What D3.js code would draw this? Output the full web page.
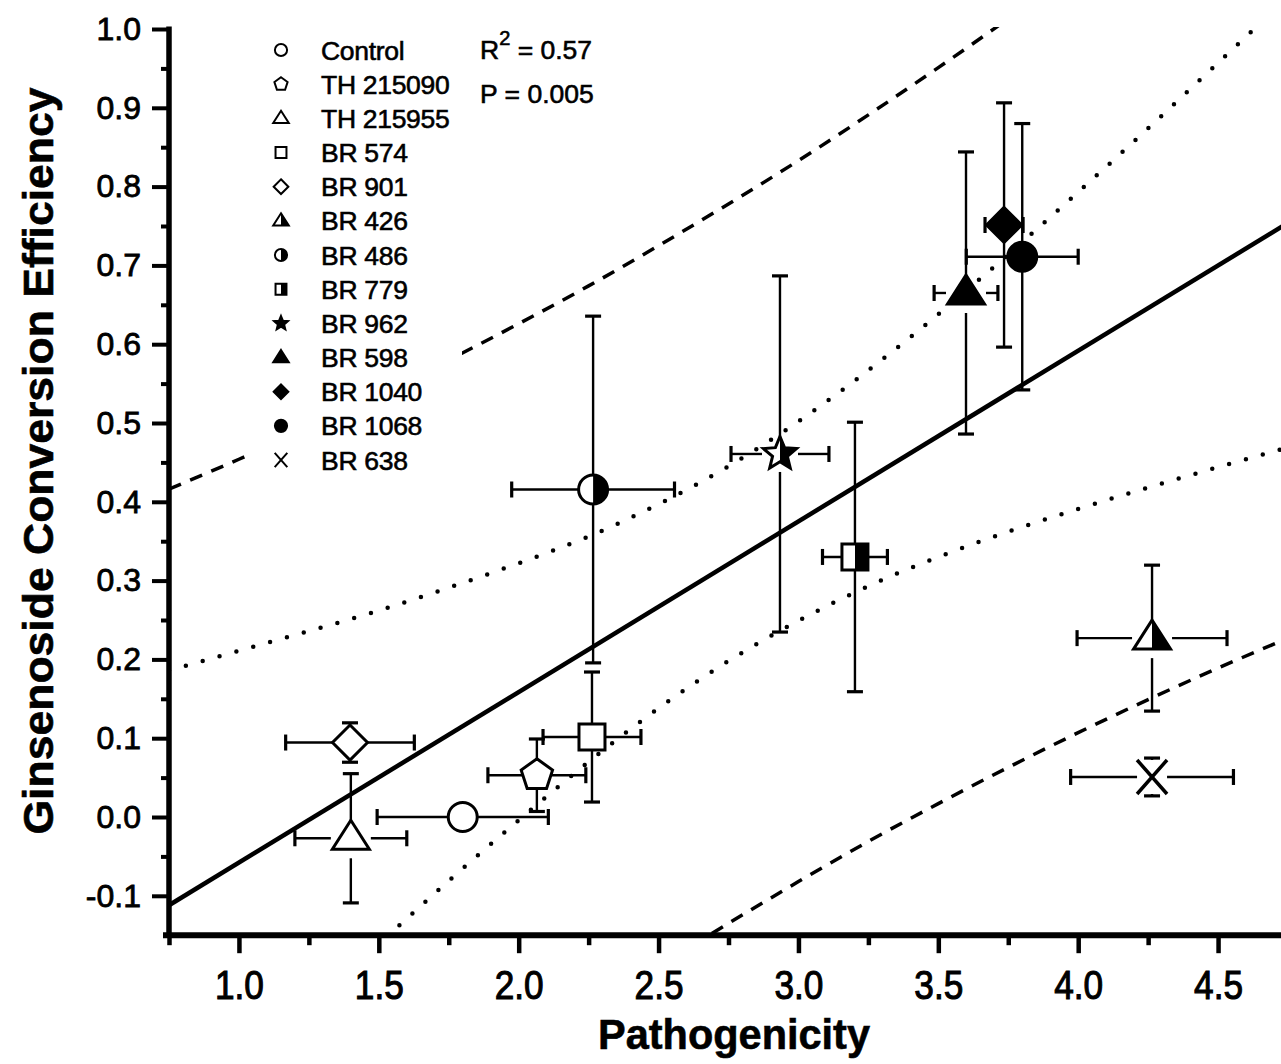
<!DOCTYPE html>
<html>
<head>
<meta charset="utf-8">
<script src="https://cdn.jsdelivr.net/npm/d3@7"></script>
<style>
  body { margin: 0; background: #fff; }
  svg { font-family: "Liberation Sans", Arial, Helvetica, sans-serif; }
</style>
</head>
<body>
<svg id="chart" width="1281" height="1064"></svg>
<script>
// values
var strains = ["Control", "TH 215090", "TH 215955", "BR 574", "BR 901", "BR 426", "BR 486",
               "BR 779", "BR 962", "BR 598", "BR 1040", "BR 1068", "BR 638"];
var pathogenicity    = [1.80, 2.065, 1.40, 2.262, 1.397, 4.264, 2.266, 3.202, 2.934, 3.599, 3.735, 3.80, 4.264];
var pathogenicityErr = [0.306, 0.175, 0.20, 0.175, 0.23, 0.268, 0.291, 0.116, 0.175, 0.114, 0.068, 0.20, 0.291];
var efficiency       = [0.0, 0.053, -0.027, 0.1015, 0.0945, 0.227, 0.4156, 0.33, 0.4607, 0.665, 0.7513, 0.711, 0.0508];
var efficiencyErr    = [0, 0.046, 0.082, 0.0825, 0.025, 0.0926, 0.22, 0.171, 0.226, 0.179, 0.155, 0.169, 0.024];

// regression fit, 95% confidence band (dotted) and prediction band (dashed)
var fitX = [0.75, 4.75];
var fitY = [-0.112, 0.754];
var bandX     = [0.75, 1.0, 1.25, 1.5, 1.75, 2.0, 2.25, 2.5, 2.75, 3.0, 3.25, 3.5, 3.75, 4.0, 4.25, 4.5, 4.75];
var confUpper = [0.186, 0.211, 0.236, 0.262, 0.291, 0.322, 0.356, 0.397, 0.445, 0.502, 0.567, 0.638, 0.714, 0.793, 0.874, 0.957, 1.040];
var confLower = [-0.410, -0.326, -0.242, -0.161, -0.081, -0.004, 0.070, 0.138, 0.198, 0.249, 0.293, 0.330, 0.362, 0.391, 0.418, 0.444, 0.469];
var predUpper = [0.416, 0.454, 0.494, 0.536, 0.580, 0.626, 0.674, 0.725, 0.778, 0.833, 0.891, 0.951, 1.013, 1.077, 1.144, 1.212, 1.282];
var predLower = [-0.639, -0.569, -0.501, -0.434, -0.370, -0.308, -0.248, -0.190, -0.135, -0.082, -0.031, 0.017, 0.063, 0.107, 0.149, 0.189, 0.227];

var xTicks = [1.0, 1.5, 2.0, 2.5, 3.0, 3.5, 4.0, 4.5];
var xMinor = [0.75, 1.25, 1.75, 2.25, 2.75, 3.25, 3.75, 4.25, 4.75];
var yTicks = [-0.1, 0.0, 0.1, 0.2, 0.3, 0.4, 0.5, 0.6, 0.7, 0.8, 0.9, 1.0];
var yMinor = [-0.05, 0.05, 0.15, 0.25, 0.35, 0.45, 0.55, 0.65, 0.75, 0.85, 0.95];
var r2Value = "0.57";
var pValue = "0.005";

// marker look per strain
var markerStyle = {
  "Control":   { shape: "circle",   fill: "open" },
  "TH 215090": { shape: "pentagon", fill: "open" },
  "TH 215955": { shape: "triangle", fill: "open" },
  "BR 574":    { shape: "square",   fill: "open" },
  "BR 901":    { shape: "diamond",  fill: "open" },
  "BR 426":    { shape: "triangle", fill: "half" },
  "BR 486":    { shape: "circle",   fill: "half" },
  "BR 779":    { shape: "square",   fill: "half" },
  "BR 962":    { shape: "star",     fill: "half" },
  "BR 598":    { shape: "triangle", fill: "solid" },
  "BR 1040":   { shape: "diamond",  fill: "solid" },
  "BR 1068":   { shape: "circle",   fill: "solid" },
  "BR 638":    { shape: "cross",    fill: "none" }
};

// gap between marker centre and the start of its error bar (px)
var barGap = {
  "triangle": { up: 0, down: 20, left: 20, right: 20 },
  "star":     { up: 0, down: 18, left: 18, right: 18 },
  "cross":    { up: 17, down: 17, left: 15, right: 15 }
};

var svg = d3.select("#chart");

var x = d3.scaleLinear().domain([0.75, 4.75]).range([169, 1288]);
var y = d3.scaleLinear().domain([-0.15, 1.0]).range([935.2, 29]);

function shapePath(kind, s) {
  var p = d3.path();
  if (kind == "circle") {
    p.arc(0, 0, 14.5 * s, 0, 2 * Math.PI);
  } else if (kind == "square") {
    p.rect(-13 * s, -13 * s, 26 * s, 26 * s);
  } else if (kind == "diamond") {
    var h = 17.5 * s;
    p.moveTo(0, -h); p.lineTo(h, 0); p.lineTo(0, h); p.lineTo(-h, 0); p.closePath();
  } else if (kind == "triangle") {
    p.moveTo(0, -18 * s); p.lineTo(18.5 * s, 11 * s); p.lineTo(-18.5 * s, 11 * s); p.closePath();
  } else if (kind == "pentagon") {
    for (var i = 0; i < 5; i++) {
      var a = -Math.PI / 2 + i * 2 * Math.PI / 5;
      if (i == 0) p.moveTo(16.5 * s * Math.cos(a), 16.5 * s * Math.sin(a));
      else p.lineTo(16.5 * s * Math.cos(a), 16.5 * s * Math.sin(a));
    }
    p.closePath();
  } else if (kind == "star") {
    for (var j = 0; j < 10; j++) {
      var r = (j % 2 == 0 ? 17.5 : 7.8) * s;
      var b = -Math.PI / 2 + j * Math.PI / 5;
      if (j == 0) p.moveTo(r * Math.cos(b), r * Math.sin(b));
      else p.lineTo(r * Math.cos(b), r * Math.sin(b));
    }
    p.closePath();
  } else if (kind == "cross") {
    p.moveTo(-15 * s, -17 * s); p.lineTo(15 * s, 17 * s);
    p.moveTo(15 * s, -17 * s); p.lineTo(-15 * s, 17 * s);
  }
  return p.toString();
}

function drawMarker(g, style, s, sw) {
  var d = shapePath(style.shape, s);
  if (style.fill == "none") {
    g.append("path").attr("d", d).attr("fill", "none").attr("stroke", "#000").attr("stroke-width", sw);
    return;
  }
  g.append("path").attr("d", d)
    .attr("fill", style.fill == "solid" ? "#000" : "#fff");
  if (style.fill == "half") {
    g.append("path").attr("d", d).attr("fill", "#000").attr("clip-path", "url(#rightHalf)");
  }
  g.append("path").attr("d", d)
    .attr("fill", "none").attr("stroke", "#000").attr("stroke-width", sw)
    .attr("stroke-linejoin", "miter");
}

var defs = svg.append("defs");
defs.append("clipPath").attr("id", "plotClip")
  .append("rect").attr("x", 169).attr("y", 27).attr("width", 1200).attr("height", 908);
defs.append("clipPath").attr("id", "rightHalf")
  .append("rect").attr("x", 0).attr("y", -40).attr("width", 40).attr("height", 80);

// ---- fit line and bands ----
var lines = svg.append("g").attr("clip-path", "url(#plotClip)");
var band = d3.line()
  .x(function(d) { return x(d[0]); })
  .y(function(d) { return y(d[1]); })
  .curve(d3.curveNatural);

function bandPoints(vals) { return bandX.map(function(v, i) { return [v, vals[i]]; }); }

[confUpper, confLower].forEach(function(vals) {
  lines.append("path").attr("d", band(bandPoints(vals)))
    .attr("fill", "none").attr("stroke", "#000").attr("stroke-width", 4.5)
    .attr("stroke-linecap", "round").attr("stroke-dasharray", "0 17.5");
});
[predUpper, predLower].forEach(function(vals) {
  lines.append("path").attr("d", band(bandPoints(vals)))
    .attr("fill", "none").attr("stroke", "#000").attr("stroke-width", 3.5)
    .attr("stroke-dasharray", "13 10");
});
lines.append("path")
  .attr("d", d3.line()(fitX.map(function(v, i) { return [x(v), y(fitY[i])]; })))
  .attr("fill", "none").attr("stroke", "#000").attr("stroke-width", 4.5);

// ---- axes ----
var gy = svg.append("g").attr("transform", "translate(169,0)");
gy.call(d3.axisLeft(y).tickValues(yTicks).tickSize(17).tickSizeOuter(0).tickPadding(11)
  .tickFormat(function(d) { return d.toFixed(1); }));
gy.append("g").call(d3.axisLeft(y).tickValues(yMinor).tickSize(8).tickSizeOuter(0).tickFormat(""));
gy.selectAll(".domain").remove();
gy.selectAll("line").attr("stroke-width", 4);
gy.selectAll("text").attr("font-size", 32).attr("fill", "#000")
  .attr("stroke", "#000").attr("stroke-width", 0.8)
  .attr("font-family", "'Liberation Sans', Arial, sans-serif");
gy.append("line").attr("x1", 0).attr("x2", 0).attr("y1", 26.5).attr("y2", 938)
  .attr("stroke", "#000").attr("stroke-width", 5.5);

var gx = svg.append("g").attr("transform", "translate(0," + y(-0.15) + ")");
gx.call(d3.axisBottom(x).tickValues(xTicks).tickSize(18).tickSizeOuter(0).tickPadding(17)
  .tickFormat(function(d) { return d.toFixed(1); }));
gx.append("g").call(d3.axisBottom(x).tickValues(xMinor).tickSize(10).tickSizeOuter(0).tickFormat(""));
gx.selectAll(".domain").remove();
gx.selectAll("line").attr("stroke-width", 4.5);
gx.selectAll("text").attr("font-size", 40).attr("fill", "#000")
  .attr("stroke", "#000").attr("stroke-width", 1.1)
  .attr("font-family", "'Liberation Sans', Arial, sans-serif")
  .attr("transform", "scale(0.88,1)");
gx.append("line").attr("x1", 163).attr("x2", 1290).attr("y1", 0).attr("y2", 0)
  .attr("stroke", "#000").attr("stroke-width", 6);

svg.append("text")
  .attr("transform", "translate(53,461) rotate(-90)")
  .attr("text-anchor", "middle").attr("font-weight", "bold").attr("font-size", 42)
  .attr("stroke", "#000").attr("stroke-width", 0.6)
  .attr("textLength", 747).attr("lengthAdjust", "spacingAndGlyphs")
  .text("Ginsenoside Conversion Efficiency");

svg.append("text")
  .attr("x", 734).attr("y", 1049)
  .attr("text-anchor", "middle").attr("font-weight", "bold").attr("font-size", 42)
  .attr("stroke", "#000").attr("stroke-width", 0.6)
  .attr("textLength", 272).attr("lengthAdjust", "spacingAndGlyphs")
  .text("Pathogenicity");

// ---- legend ----
svg.append("rect").attr("x", 250).attr("y", 27).attr("width", 212).attr("height", 447).attr("fill", "#fff");
var legend = svg.append("g");
var rows = legend.selectAll("g.row").data(strains).enter().append("g")
  .attr("class", "row")
  .attr("transform", function(d, i) { return "translate(281," + (50 + i * 34.17) + ")"; });
rows.each(function(d) {
  var st = markerStyle[d];
  var legendStyle = { shape: st.shape, fill: st.shape == "star" ? "solid" : st.fill };
  drawMarker(d3.select(this), legendStyle, 0.42, 2);
});
rows.append("text").attr("x", 40).attr("dy", "0.36em").attr("font-size", 26.5)
  .attr("stroke", "#000").attr("stroke-width", 0.6)
  .attr("letter-spacing", -0.3)
  .text(function(d) { return d; });

var stats = svg.append("text").attr("x", 480).attr("y", 59).attr("font-size", 26.5)
  .attr("stroke", "#000").attr("stroke-width", 0.6);
stats.append("tspan").text("R");
stats.append("tspan").attr("font-size", 20).attr("dy", -14).text("2");
stats.append("tspan").attr("dy", 14).text(" = " + r2Value);
svg.append("text").attr("x", 480).attr("y", 103).attr("font-size", 26.5)
  .attr("stroke", "#000").attr("stroke-width", 0.6)
  .text("P = " + pValue);

// ---- error bars ----
var bars = svg.append("g").attr("stroke", "#000");
strains.forEach(function(name, i) {
  var cx = x(pathogenicity[i]), cy = y(efficiency[i]);
  var gap = barGap[markerStyle[name].shape] || { up: 0, down: 0, left: 0, right: 0 };
  var xl = x(pathogenicity[i] - pathogenicityErr[i]), xr = x(pathogenicity[i] + pathogenicityErr[i]);
  var yt = y(efficiency[i] + efficiencyErr[i]), yb = y(efficiency[i] - efficiencyErr[i]);
  var segs = [];
  if (pathogenicityErr[i] > 0) {
    segs.push([cx - gap.left, cy, xl, cy]);
    segs.push([cx + gap.right, cy, xr, cy]);
    bars.append("line").attr("x1", xl).attr("x2", xl).attr("y1", cy - 8).attr("y2", cy + 8).attr("stroke-width", 3.2);
    bars.append("line").attr("x1", xr).attr("x2", xr).attr("y1", cy - 8).attr("y2", cy + 8).attr("stroke-width", 3.2);
  }
  if (efficiencyErr[i] > 0) {
    segs.push([cx, cy - gap.up, cx, yt]);
    segs.push([cx, cy + gap.down, cx, yb]);
    bars.append("line").attr("x1", cx - 8).attr("x2", cx + 8).attr("y1", yt).attr("y2", yt).attr("stroke-width", 3.2);
    bars.append("line").attr("x1", cx - 8).attr("x2", cx + 8).attr("y1", yb).attr("y2", yb).attr("stroke-width", 3.2);
  }
  segs.forEach(function(s) {
    // skip if the gap is larger than the bar itself
    if ((s[0] == s[2] && Math.abs(s[3] - cy) <= Math.abs(s[1] - cy)) ||
        (s[1] == s[3] && Math.abs(s[2] - cx) <= Math.abs(s[0] - cx))) return;
    bars.append("line").attr("x1", s[0]).attr("y1", s[1]).attr("x2", s[2]).attr("y2", s[3])
      .attr("stroke-width", 2.4);
  });
});

// ---- markers ----
var pts = svg.append("g");
strains.forEach(function(name, i) {
  var g = pts.append("g").attr("transform", "translate(" + x(pathogenicity[i]) + "," + y(efficiency[i]) + ")");
  drawMarker(g, markerStyle[name], 1, markerStyle[name].fill == "none" ? 3.5 : 3);
});
</script>
</body>
</html>
